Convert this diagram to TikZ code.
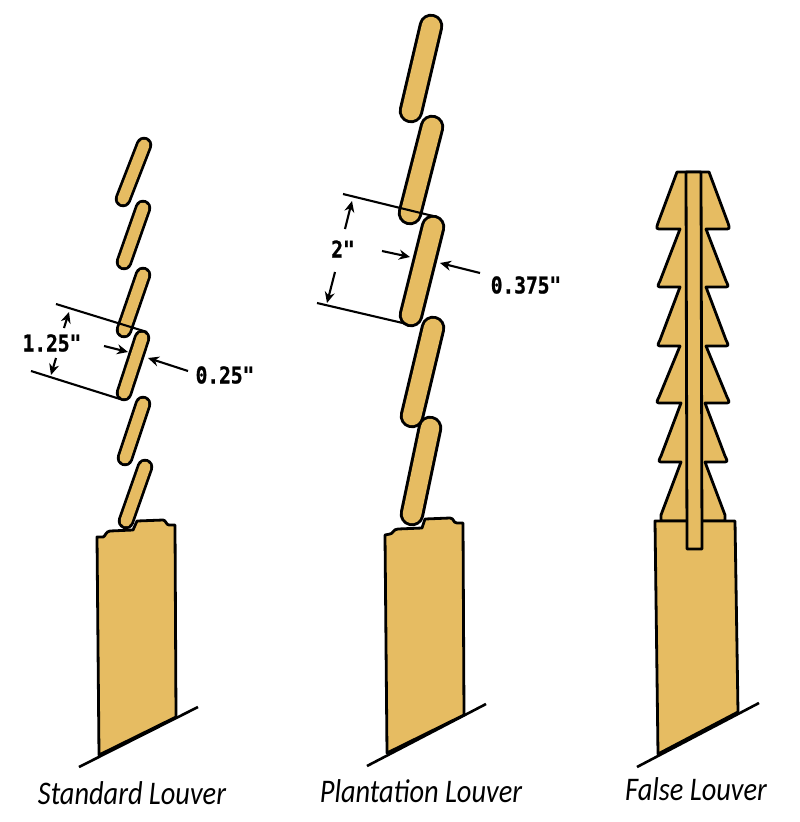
\documentclass[tikz,border=0pt]{standalone}
\usepackage{fontspec}
\setmainfont{Carlito}
\newfontfamily\dimfont[BoldFeatures={FakeBold=1.2}]{DejaVu Sans Mono}
\usetikzlibrary{arrows.meta}
\definecolor{wood}{HTML}{E6BC62}
\newcommand{\captext}[1]{\scalebox{.86}[1]{\itshape\fontsize{33}{33}\selectfont #1}}
\newcommand{\dimtext}[1]{\scalebox{1}[1.18]{\dimfont\bfseries\fontsize{19.5}{19.5}\selectfont #1}}
\tikzset{
  x=1pt,y=-1pt,
  outline/.style={draw=black,fill=wood,line width=2.8pt,line join=round},
  dimline/.style={draw=black,line width=2.1pt},
  dimarrow/.style={draw=black,line width=2.1pt,-{Stealth[length=11pt,width=10pt]}},
  groundline/.style={draw=black,line width=2.6pt},
  caption/.style={inner sep=0pt,text=black},
  dimlabel/.style={inner sep=0pt}
}
\newcommand{\slat}[6]{% x1,y1,x2,y2,outer width,inner width
  \draw[black,line width=#5pt,line cap=round] (#1,#2) -- (#3,#4);
  \draw[wood,line width=#6pt,line cap=round] (#1,#2) -- (#3,#4);
}
\begin{document}
\begin{tikzpicture}
\useasboundingbox (0,0) rectangle (800,822);
\fill[white] (0,0) rectangle (800,822);

% Standard louver
\path[outline] (97,537) -- (103,537) .. controls (105,537) and (106,531) .. (110,531) -- (133,530) -- (137,521) -- (163,520) .. controls (166,520) and (166,525) .. (169,525) -- (175,525) -- (176,717) -- (99,755) -- cycle;
\slat{144}{145}{123}{199}{16.5}{11}
\slat{143}{208}{124}{262}{16.5}{11}
\slat{143}{275}{124}{330}{16.5}{11}
\slat{142}{338}{124}{393}{16.5}{11}
\slat{143}{404}{125}{458}{16.5}{11}
\slat{145}{467}{126}{521}{16.5}{11}
\draw[groundline] (79,767) -- (198,707);
\draw[dimline] (56,304) -- (147,332);
\draw[dimline] (31,371) -- (120,399);
\draw[dimarrow] (64,328) -- (69,312);
\draw[dimarrow] (56,358) -- (51,375);
\draw[dimarrow] (104,346) -- (128,352);
\draw[dimarrow] (188,371) -- (148,358);
\node[dimlabel] (a1) at (52,343) {\dimtext{1.25"}};
\node[dimlabel] (a2) at (225,375) {\dimtext{0.25"}};
\node[caption] (a3) at (132,793) {\captext{Standard Louver}};

% Plantation louver
\path[outline] (385,535) -- (390,534) .. controls (393,534) and (393,529) .. (398,529) -- (422,528) -- (425,519) -- (450,518) .. controls (454,518) and (453,523) .. (457,523) -- (463,523) -- (464,715) -- (387,753) -- cycle;
\slat{431}{26}{411}{111}{24.5}{18.5}
\slat{432}{127}{410}{213}{24.5}{18.5}
\slat{433}{227}{411}{315}{24.5}{18.5}
\slat{433}{328}{412}{416}{24.5}{18.5}
\slat{430}{428}{412}{514}{24.5}{18.5}
\draw[groundline] (367,766) -- (486,704);
\draw[dimline] (343,194) -- (433,216);
\draw[dimline] (317,303) -- (407,324);
\draw[dimarrow] (345,229) -- (352,201);
\draw[dimarrow] (335,272) -- (327,303);
\draw[dimarrow] (382,251) -- (410,257);
\draw[dimarrow] (480,273) -- (440,263);
\node[dimlabel] (b1) at (343,249) {\dimtext{2"}};
\node[dimlabel] (b2) at (526,285) {\dimtext{0.375"}};
\node[caption] (b3) at (421,791) {\captext{Plantat{}ion Louver}};

% False louver
\path[outline] (677,172) -- (709,172) -- (728,223) .. controls (730,229) .. (724,229) -- (706,229)
  -- (726,281) .. controls (729,287) .. (723,287) -- (706,287)
  -- (726,340) .. controls (729,346) .. (723,346) -- (706,346)
  -- (727,397) .. controls (730,403) .. (724,403) -- (705,403)
  -- (725,456) .. controls (728,462) .. (722,462) -- (705,462)
  -- (725,515) -- (725,521) -- (661,521) -- (661,515) -- (681,462) -- (664,462)
  .. controls (658,462) .. (661,456) -- (681,403) -- (662,403)
  .. controls (656,403) .. (659,397) -- (680,346) -- (663,346)
  .. controls (657,346) .. (660,340) -- (680,287) -- (663,287)
  .. controls (657,287) .. (660,281) -- (680,229) -- (662,229)
  .. controls (656,229) .. (658,223) -- cycle;
\path[outline] (655,521) -- (735,521) -- (738,712) -- (658,754) -- cycle;
\path[outline] (686,172) -- (701,172) -- (702,549) -- (687,549) -- cycle;
\draw[groundline] (637,767) -- (759,703);
\node[caption] (c3) at (696,789) {\captext{False Louver}};
\end{tikzpicture}
\end{document}
